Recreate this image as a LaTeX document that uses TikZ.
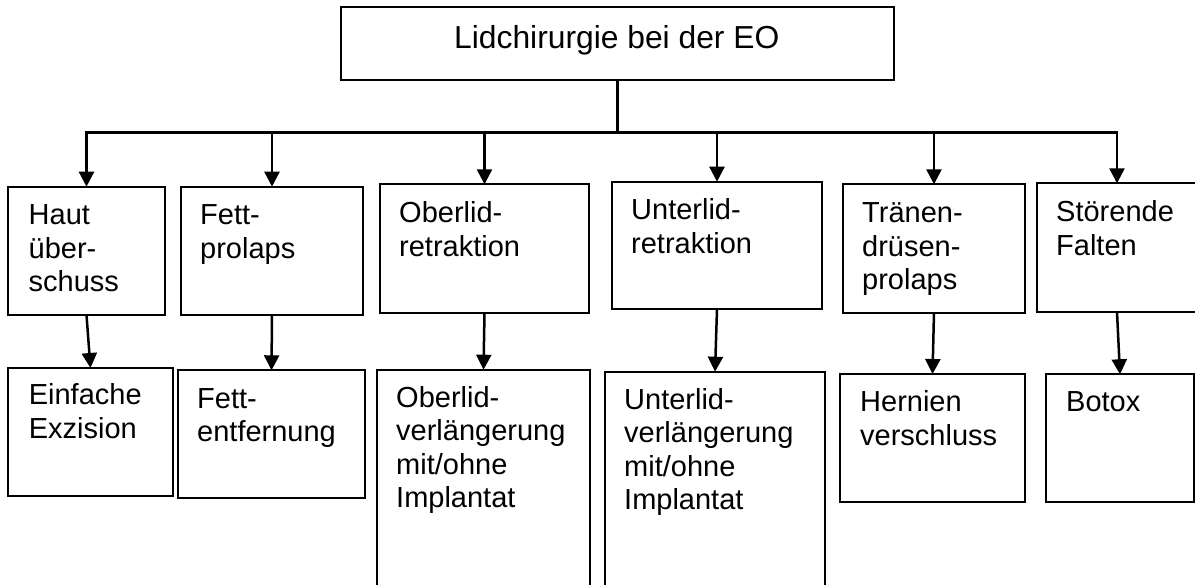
\documentclass[tikz,border=0pt]{standalone}
\usepackage{fontspec}
\setmainfont{Liberation Sans}
\usetikzlibrary{arrows.meta}
\newcommand{\mlines}[1]{\begin{tabular}[t]{@{}l@{}}#1\end{tabular}}
\begin{document}
\begin{tikzpicture}[x=1pt,y=-1pt,
  box/.style={draw, line width=2pt, inner sep=0pt, outer sep=0pt, anchor=north west},
  txt/.style={anchor=base west, inner sep=0pt, font=\fontsize{29}{33.5}\selectfont},
  arr/.style={line width=2.5pt, -{Triangle[width=15pt,length=15pt]}},
  trunk/.style={line width=3.2pt}
]
\useasboundingbox (0,0) rectangle (1195,585);
% top box
\node[box, minimum width=553pt, minimum height=72.7pt] (top) at (341,7.3) {};
\node[anchor=base west, inner sep=0pt, font=\fontsize{31.8}{36}\selectfont] (ttl) at (454,48.3) {Lidchirurgie bei der EO};
% first row
\node[box, minimum width=157pt, minimum height=128.3pt] (h1) at (8,186.7) {};
\node[box, minimum width=182pt, minimum height=128.3pt] (h2) at (181,186.7) {};
\node[box, minimum width=209pt, minimum height=128.4pt] (h3) at (380,184.3) {};
\node[box, minimum width=210pt, minimum height=127.6pt] (h4) at (612,181.7) {};
\node[box, minimum width=182pt, minimum height=128.4pt] (h5) at (843,184.3) {};
\node[box, minimum width=160pt, minimum height=128.7pt] (h6) at (1037,183.3) {};
\node[txt] (t1) at (28.5,225) {\mlines{Haut\\über-\\schuss}};
\node[txt] (t2) at (200,225) {\mlines{Fett-\\prolaps}};
\node[txt] (t3) at (399,222.7) {\mlines{Oberlid-\\retraktion}};
\node[txt] (t4) at (631,220) {\mlines{Unterlid-\\retraktion}};
\node[txt] (t5) at (862,222.7) {\mlines{Tränen-\\drüsen-\\prolaps}};
\node[txt] (t6) at (1056,221.7) {\mlines{Störende\\Falten}};
% second row
\node[box, minimum width=165pt, minimum height=128pt] (l1) at (8,368) {};
\node[box, minimum width=187pt, minimum height=128pt] (l2) at (178,370.3) {};
\node[box, minimum width=213pt, minimum height=230pt] (l3) at (377,369.7) {};
\node[box, minimum width=220pt, minimum height=228pt] (l4) at (605,371.7) {};
\node[box, minimum width=185pt, minimum height=127.7pt] (l5) at (840,374) {};
\node[box, minimum width=148pt, minimum height=128pt] (l6) at (1046,374.3) {};
\node[txt] (u1) at (28.6,405) {\mlines{Einfache\\Exzision}};
\node[txt] (u2) at (197,408.3) {\mlines{Fett-\\entfernung}};
\node[txt] (u3) at (396,407.3) {\mlines{Oberlid-\\verlängerung\\mit/ohne\\Implantat}};
\node[txt] (u4) at (624,409.3) {\mlines{Unterlid-\\verlängerung\\mit/ohne\\Implantat}};
\node[txt] (u5) at (860,411.7) {\mlines{Hernien\\verschluss}};
\node[txt] (u6) at (1066,411.7) {Botox};
% connectors
\coordinate (bus) at (617.5,132.5);
\draw[trunk] (top.south) -- (bus) -- (bus -| h3.north);
\foreach \n in {h1,h2,h3,h4,h5,h6}
  \draw[arr] (bus) -| (\n.north);
\draw[arr] (h1.south) -- (l1.north);
\draw[arr] (h2.south) -- (l2.north);
\draw[arr] (h3.south) -- (l3.north);
\draw[arr] (h4.south) -- (l4.north);
\draw[arr] (h5.south) -- (l5.north);
\draw[arr] (h6.south) -- (l6.north);
\end{tikzpicture}
\end{document}
